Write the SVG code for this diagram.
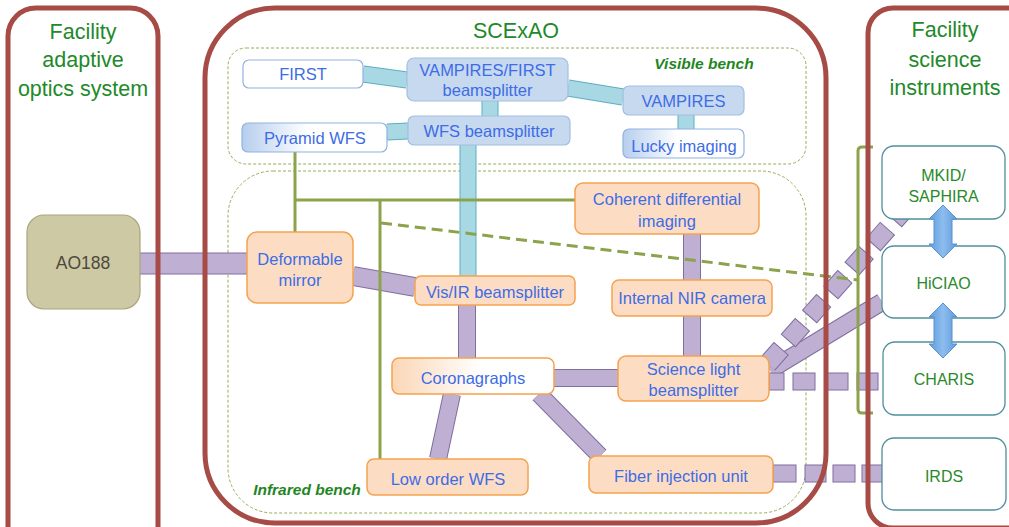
<svg xmlns="http://www.w3.org/2000/svg" width="1009" height="527" viewBox="0 0 1009 527">
<style>
.t{font-family:"Liberation Sans",Arial,sans-serif;text-anchor:middle}
.nt{font-size:16.5px;fill:#3D6CE6}
.title{font-size:21.5px;fill:#22892A}
.it{font-size:16px;fill:#2A8A2A}
.bench{fill:none;stroke:#95AE55;stroke-width:1;stroke-dasharray:3 2}
.bl{font-size:15.5px;font-weight:bold;font-style:italic;fill:#1F861F}
.cont{fill:none;stroke:#A64B45;stroke-width:5}
.vb{fill:#C6D9EF;stroke:#A2BFE0;stroke-width:1.2}
.vw{fill:#fff;stroke:#90B3DF;stroke-width:1.2}
.ir{fill:#FCDDC3;stroke:#F4A24F;stroke-width:1.5}
.inst{fill:#fff;stroke:#4F8E9C;stroke-width:1.3}
.pb{stroke:#7F6E9E;fill:none}
.pf{stroke:#BFB0D3;fill:none}
.pr{fill:#BFB0D3;stroke:#7F6E9E;stroke-width:1}
.bb{stroke:#5FAEC1;fill:none}
.bf{stroke:#A7D8E3;fill:none}
.g{fill:none;stroke:#8BA34B;stroke-width:3}
.arr{fill:url(#ag);stroke:#5B8FD0;stroke-width:1}
</style>
<defs>
<linearGradient id="gb" x1="0" y1="0" x2="1" y2="0">
<stop offset="0" stop-color="#B6CEEE"/><stop offset="0.45" stop-color="#FFFFFF"/><stop offset="1" stop-color="#FFFFFF"/>
</linearGradient>
<linearGradient id="go" x1="0" y1="0" x2="1" y2="0">
<stop offset="0" stop-color="#FBD6B6"/><stop offset="0.55" stop-color="#FFFFFF"/><stop offset="1" stop-color="#FFFFFF"/>
</linearGradient>
<linearGradient id="ag" x1="0" y1="0" x2="1" y2="0">
<stop offset="0" stop-color="#5E9BDD"/><stop offset="0.5" stop-color="#8DBDEE"/><stop offset="1" stop-color="#5E9BDD"/>
</linearGradient>
</defs>

<g id="benches">
<rect class="bench" x="228" y="48" width="578" height="116" rx="18"/>
<rect class="bench" x="228" y="171" width="578" height="342" rx="45"/>
<text class="t bl" x="704" y="69">Visible bench</text>
<text class="t bl" x="307" y="495">Infrared bench</text>
</g>

<g id="connectors">
<line class="bb" stroke-width="17" x1="363" y1="74" x2="407" y2="80"/>
<line class="bf" stroke-width="15" x1="363" y1="74" x2="407" y2="80"/>
<line class="bb" stroke-width="17" x1="568" y1="88" x2="623" y2="97"/>
<line class="bf" stroke-width="15" x1="568" y1="88" x2="623" y2="97"/>
<line class="bb" stroke-width="17" x1="686" y1="115" x2="686" y2="129"/>
<line class="bf" stroke-width="15" x1="686" y1="115" x2="686" y2="129"/>
<line class="bb" stroke-width="17" x1="490" y1="101" x2="490" y2="116"/>
<line class="bf" stroke-width="15" x1="490" y1="101" x2="490" y2="116"/>
<line class="bb" stroke-width="17" x1="387" y1="132" x2="408" y2="131"/>
<line class="bf" stroke-width="15" x1="387" y1="132" x2="408" y2="131"/>
<line class="bb" stroke-width="17" x1="468" y1="145" x2="468" y2="276"/>
<line class="bf" stroke-width="15" x1="468" y1="145" x2="468" y2="276"/>
<line class="pb" stroke-width="22" x1="140" y1="263.5" x2="247" y2="263.5"/>
<line class="pf" stroke-width="20" x1="140" y1="263.5" x2="247" y2="263.5"/>
<line class="pb" stroke-width="20" x1="353" y1="276" x2="415" y2="287"/>
<line class="pf" stroke-width="18" x1="353" y1="276" x2="415" y2="287"/>
<line class="pb" stroke-width="18" x1="467" y1="305" x2="467" y2="358"/>
<line class="pf" stroke-width="16" x1="467" y1="305" x2="467" y2="358"/>
<line class="pb" stroke-width="18" x1="692" y1="234" x2="692" y2="280"/>
<line class="pf" stroke-width="16" x1="692" y1="234" x2="692" y2="280"/>
<line class="pb" stroke-width="18" x1="692" y1="316" x2="692" y2="356"/>
<line class="pf" stroke-width="16" x1="692" y1="316" x2="692" y2="356"/>
<line class="pb" stroke-width="18" x1="554" y1="378" x2="618" y2="378"/>
<line class="pf" stroke-width="16" x1="554" y1="378" x2="618" y2="378"/>
<line class="pb" stroke-width="18" x1="452" y1="394" x2="438" y2="459"/>
<line class="pf" stroke-width="16" x1="452" y1="394" x2="438" y2="459"/>
<line class="pb" stroke-width="18" x1="539" y1="394" x2="600" y2="456"/>
<line class="pf" stroke-width="16" x1="539" y1="394" x2="600" y2="456"/>
<line class="pb" stroke-width="18" x1="770" y1="370" x2="882" y2="302"/>
<line class="pf" stroke-width="16" x1="770" y1="370" x2="882" y2="302"/>
<line class="pb" stroke-width="20" stroke-dasharray="22 10.06" stroke-dashoffset="1" x1="767.5" y1="364.1" x2="907.6" y2="205.8"/>
<line class="pf" stroke-width="18" stroke-dasharray="20 12.06" x1="767.5" y1="364.1" x2="907.6" y2="205.8"/>
<rect class="pr" x="769" y="373" width="15" height="17"/>
<rect class="pr" x="793" y="373" width="22" height="17"/>
<rect class="pr" x="826" y="373" width="22" height="17"/>
<rect class="pr" x="857" y="373" width="21" height="17"/>
<rect class="pr" x="773" y="465" width="23" height="17"/>
<rect class="pr" x="805" y="465" width="21" height="17"/>
<rect class="pr" x="833" y="465" width="22" height="17"/>
<rect class="pr" x="862" y="465" width="27" height="17"/>
<path class="g" d="M295,152 V232 M295,200 H575 M380,200 V459"/>
<path class="g" d="M873,147 H862 Q858,147 858,151 V409 Q858,413 862,413 H873"/>
<path class="g" stroke-width="3.5" stroke-dasharray="11 6" d="M381,223 L858,280"/>
</g>

<g id="containers">
<path class="cont" d="M8,540 V36 A28,28 0 0 1 36,8 H130 A28,28 0 0 1 158,36 V540"/>
<rect class="cont" x="205" y="8" width="621" height="515" rx="70"/>
<rect class="cont" x="868" y="8" width="200" height="520" rx="25"/>
<text class="t title" x="83" y="39">Facility</text>
<text class="t title" x="83" y="67">adaptive</text>
<text class="t title" x="83" y="96">optics system</text>
<text class="t title" x="516" y="38">SCExAO</text>
<text class="t title" x="945" y="37">Facility</text>
<text class="t title" x="945" y="67">science</text>
<text class="t title" x="945" y="95">instruments</text>
</g>

<g id="ao188">
<rect x="27" y="215" width="113" height="94" rx="17" fill="#CEC9A5" stroke="#ABA57D" stroke-width="1.2"/>
<text class="t" x="83" y="269" font-size="17.5" fill="#4D4B3C">AO188</text>
</g>

<g id="first"><rect class="vw" x="243" y="60" width="120" height="28" rx="6"/><text class="t nt" x="303" y="80">FIRST</text></g>
<g id="vampires-first-bs"><rect class="vb" x="407" y="58" width="161" height="43" rx="7"/><text class="t nt" x="487.5" y="76">VAMPIRES/FIRST</text><text class="t nt" x="487.5" y="96">beamsplitter</text></g>
<g id="wfs-bs"><rect class="vb" x="408" y="116" width="162" height="29" rx="6"/><text class="t nt" x="489" y="137">WFS beamsplitter</text></g>
<g id="pyramid-wfs"><rect x="242" y="123" width="145" height="29" rx="6" fill="url(#gb)" stroke="#90B3DF" stroke-width="1.2"/><text class="t nt" x="315" y="144">Pyramid WFS</text></g>
<g id="vampires"><rect class="vb" x="623" y="86" width="121" height="29" rx="6"/><text class="t nt" x="683.5" y="107">VAMPIRES</text></g>
<g id="lucky"><rect x="623" y="129" width="121" height="29" rx="6" fill="url(#gb)" stroke="#90B3DF" stroke-width="1.2"/><text class="t nt" x="684" y="152">Lucky imaging</text></g>

<g id="dm"><rect class="ir" x="247" y="232" width="106" height="71" rx="10"/><text class="t nt" x="300" y="265">Deformable</text><text class="t nt" x="300" y="286">mirror</text></g>
<g id="visir-bs"><rect class="ir" x="415" y="276" width="160" height="29" rx="6"/><text class="t nt" x="495" y="298">Vis/IR beamsplitter</text></g>
<g id="cdi"><rect class="ir" x="575" y="183" width="184" height="51" rx="8"/><text class="t nt" x="667" y="205">Coherent differential</text><text class="t nt" x="667" y="227">imaging</text></g>
<g id="nir-camera"><rect class="ir" x="612" y="280" width="160" height="36" rx="7"/><text class="t nt" x="692" y="304">Internal NIR camera</text></g>
<g id="coronagraphs"><rect x="392" y="358" width="162" height="36" rx="7" fill="url(#go)" stroke="#F4A24F" stroke-width="1.5"/><text class="t nt" x="473" y="384">Coronagraphs</text></g>
<g id="science-bs"><rect class="ir" x="618" y="356" width="151" height="45" rx="8"/><text class="t nt" x="693.5" y="375">Science light</text><text class="t nt" x="693.5" y="396">beamsplitter</text></g>
<g id="lowfs"><rect class="ir" x="367" y="459" width="161" height="36" rx="7"/><text class="t nt" x="448" y="485">Low order WFS</text></g>
<g id="fiber"><rect class="ir" x="589" y="456" width="184" height="37" rx="7"/><text class="t nt" x="681" y="482">Fiber injection unit</text></g>

<g id="mkid"><rect class="inst" x="882" y="146" width="123" height="73" rx="12"/><text class="t it" x="943.5" y="181">MKID/</text><text class="t it" x="943.5" y="202">SAPHIRA</text></g>
<g id="hiciao"><rect class="inst" x="882" y="246" width="123" height="72" rx="12" fill="#C4E3EC"/><text class="t it" x="943.5" y="289">HiCIAO</text></g>
<g id="charis"><rect class="inst" x="883" y="342" width="122" height="73" rx="12"/><text class="t it" x="944" y="385">CHARIS</text></g>
<g id="irds"><rect class="inst" x="882" y="438" width="124" height="72" rx="12" fill="none"/><text class="t it" x="944" y="482">IRDS</text></g>

<g id="instrument-arrows">
<polygon class="arr" points="943,205 957,219 952,219 952,244 957,244 943,258 929,244 934,244 934,219 929,219"/>
<polygon class="arr" points="943,303 957,317 952,317 952,344 957,344 943,358 929,344 934,344 934,317 929,317"/>
</g>
</svg>
